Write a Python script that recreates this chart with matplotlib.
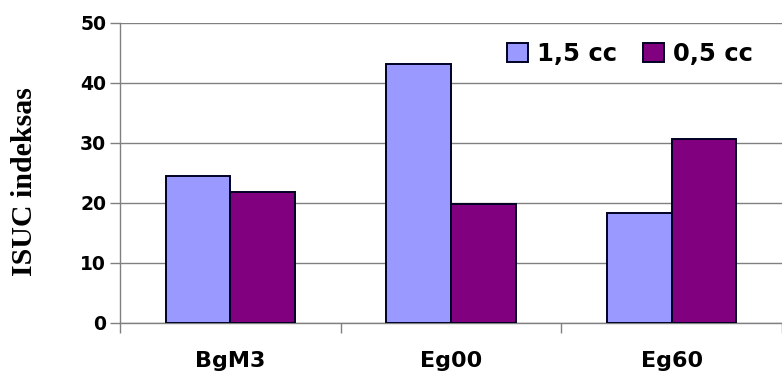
import matplotlib
matplotlib.use('Agg')
import matplotlib.pyplot as plt
import numpy as np

categories = ['BgM3', 'Eg00', 'Eg60']
cc_15 = [24.5, 43.1, 18.3]
cc_05 = [21.9, 19.8, 30.6]
series_labels = ['1,5 cc', '0,5 cc']
yticks = [0, 10, 20, 30, 40, 50]

W, H = 782, 387
fig = plt.figure(figsize=(W / 100, H / 100), dpi=100)
ax = fig.add_axes([120 / W, (H - 323) / H, 662 / W, 300 / H])

x = np.arange(len(categories))
bw = 0.293
ax.bar(x - bw / 2, cc_15, bw, color='#9999FF', edgecolor='#000022',
       linewidth=1.4, label=series_labels[0], zorder=3)
ax.bar(x + bw / 2, cc_05, bw, color='#800080', edgecolor='#000022',
       linewidth=1.4, label=series_labels[1], zorder=3)

ax.set_xlim(-0.5, -0.5 + 662 / 222)
ax.set_ylim(0, 50)
ax.set_yticks(yticks)
ax.set_yticklabels([str(v) for v in yticks], fontsize=13.5, fontweight='bold',
                   family='DejaVu Sans')
ax.set_xticks(x)
ax.set_xticklabels(categories, fontsize=16, fontweight='bold', family='DejaVu Sans')
ax.tick_params(axis='x', which='major', length=0, pad=20)
ax.set_xticks(np.arange(-0.5, 3.0, 1.0), minor=True)
ax.tick_params(axis='x', which='minor', length=7, color='#808080', width=1)
ax.tick_params(axis='y', length=7, color='#808080', width=1, pad=3)

ax.yaxis.grid(True, color='#808080', linewidth=1, zorder=0)
for side in ['top', 'right']:
    ax.spines[side].set_visible(False)
for side in ['left', 'bottom']:
    ax.spines[side].set_color('#808080')
    ax.spines[side].set_linewidth(1)

ax.set_ylabel('ISUC indeksas', fontsize=21.5, fontweight='bold',
              family='Liberation Serif')
ax.yaxis.set_label_coords(-82 / 662, 0.472)

ax.legend(loc='upper left', bbox_to_anchor=(507 / W, 1 - 42 / H),
          bbox_transform=fig.transFigure, ncol=2, frameon=False,
          prop={'family': 'DejaVu Sans', 'weight': 'bold', 'size': 17.5},
          handlelength=0.85, handleheight=0.8, handletextpad=0.4,
          columnspacing=1.05, borderaxespad=0, borderpad=0)

fig.savefig('out.png', dpi=100)
